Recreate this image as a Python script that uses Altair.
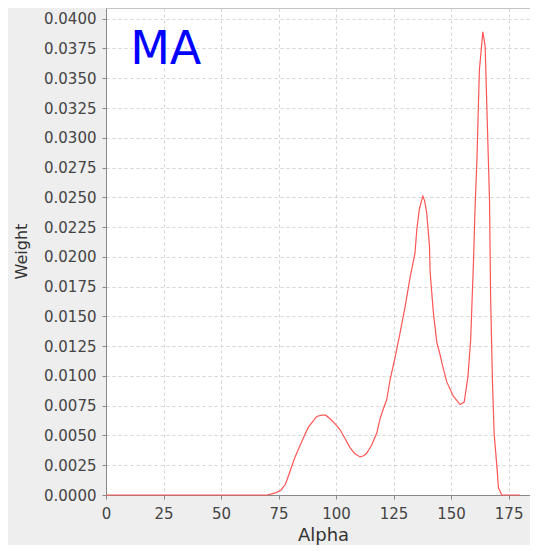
import altair as alt
import pandas as pd

alpha = [0, 70, 72, 74, 76, 78, 80, 82, 84, 86.5, 88, 90, 91.6, 93.8, 95.5, 97.4,
         99.5, 101.7, 104, 106, 108, 110.4, 112, 113.3, 115.5, 117.7, 119.1, 120.5,
         122, 123.5, 125.7, 127.8, 130, 132.2, 134.3, 135.1, 136.2, 137.7, 138.5,
         139.4, 140.6, 140.9, 142.3, 143.8, 145.2, 146, 148.1, 151, 153.9, 155.7,
         157.3, 158.5, 159.7, 160.4, 161.2, 162.3, 163.8, 164.8, 165.5, 166.7,
         167.2, 168, 168.7, 169.9, 170.6, 172, 180]
weight = [0, 0, 0.0001, 0.0002, 0.0004, 0.0009, 0.0020, 0.0031, 0.0040, 0.0051,
          0.0057, 0.0062, 0.0066, 0.0067, 0.0067, 0.0064, 0.0060, 0.0055, 0.0047,
          0.0040, 0.0035, 0.0032, 0.0033, 0.0035, 0.0042, 0.0052, 0.0064, 0.0072,
          0.0080, 0.0097, 0.0116, 0.0136, 0.0158, 0.0183, 0.0203, 0.0223, 0.0240,
          0.0251, 0.0247, 0.0237, 0.0209, 0.0187, 0.0153, 0.0128, 0.0118, 0.0111,
          0.0095, 0.0083, 0.0076, 0.0078, 0.0099, 0.0130, 0.0194, 0.0240, 0.0280,
          0.0357, 0.0389, 0.0377, 0.0329, 0.0248, 0.0164, 0.0094, 0.0052, 0.0024,
          0.0006, 0.0, 0.0]

x_ticks = [0, 25, 50, 75, 100, 125, 150, 175]
y_ticks = [0.0, 0.0025, 0.005, 0.0075, 0.01, 0.0125, 0.015, 0.0175, 0.02,
           0.0225, 0.025, 0.0275, 0.03, 0.0325, 0.035, 0.0375, 0.04]

label_text = ["MA"]
label_x = [10.5]
label_y = [0.0362]

df = pd.DataFrame({"Alpha": alpha, "Weight": weight})
df_label = pd.DataFrame({"x": label_x, "y": label_y, "t": label_text})

xscale = alt.Scale(domain=[0, 184.3], nice=False, zero=False)
yscale = alt.Scale(domain=[0, 0.0409], nice=False)

line = alt.Chart(df).mark_line(color="#FF5555", strokeWidth=1.2).encode(
    x=alt.X("Alpha:Q", scale=xscale,
            axis=alt.Axis(values=x_ticks, title="Alpha", format="d",
                          titleFontSize=18, titleX=217, titleY=45,
                          titleBaseline="alphabetic", titleAlign="center",
                          labelBaseline="top", labelPadding=7,
                          labelOverlap=False, labelFlush=False)),
    y=alt.Y("Weight:Q", scale=yscale,
            axis=alt.Axis(values=y_ticks, title="Weight", format=".4f",
                          titleFontSize=16, titleX=-80, titleY=243,
                          titleAngle=-90, titleBaseline="alphabetic",
                          titleAlign="center", labelPadding=6,
                          labelOverlap=False, labelFlush=False,
                          tickCount=17)),
)

text = alt.Chart(df_label).mark_text(
    align="left", baseline="alphabetic", fontSize=46, font="DejaVu Sans",
    color="#0000FF"
).encode(
    x=alt.X("x:Q", scale=xscale),
    y=alt.Y("y:Q", scale=yscale),
    text="t:N",
)

chart = alt.layer(line, text).properties(
    width=424, height=487,
    autosize=alt.AutoSizeParams(type="none"),
    padding={"left": 98, "top": 0, "right": 0, "bottom": 50},
    background="#EEEEEE",
).configure_view(
    fill="#FFFFFF", stroke="#C4C4C4", strokeWidth=1
).configure_axis(
    labelFont="DejaVu Sans", labelFontSize=15, labelColor="#444444",
    titleFont="DejaVu Sans", titleColor="#333333", titleFontWeight="normal",
    tickSize=4, tickColor="#888888", domainColor="#888888", domainWidth=1,
    gridColor="#D4D4D4", gridDash=[3, 3], gridWidth=1, labelOverlap=False,
)

chart.save("out.html", embed_options={"renderer": "svg", "actions": False})
